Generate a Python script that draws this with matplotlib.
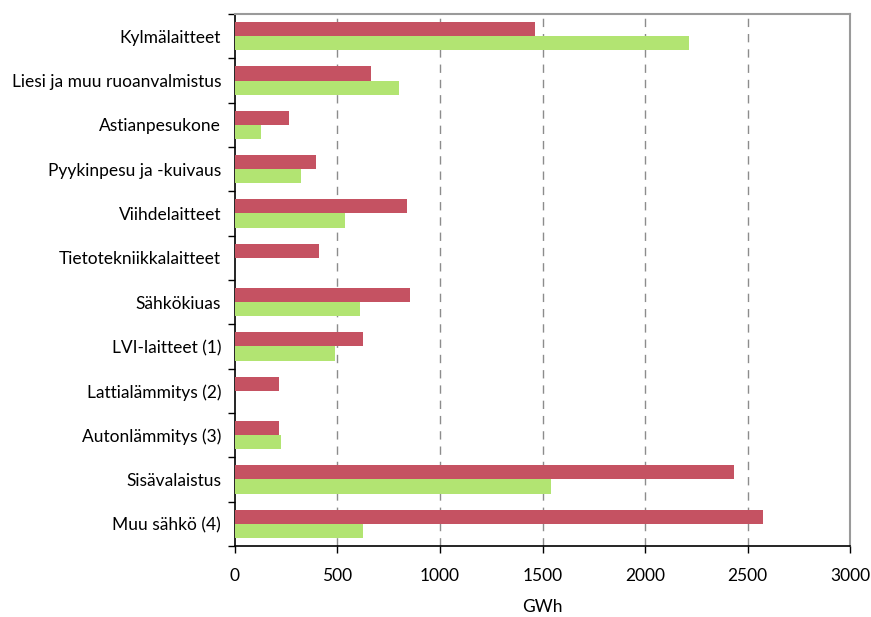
import numpy as np
import matplotlib.pyplot as plt
from matplotlib.ticker import FixedLocator, NullFormatter

plt.rcParams['font.family'] = ['Lato', 'DejaVu Sans']

categories = [
    "Kylmälaitteet",
    "Liesi ja muu ruoanvalmistus",
    "Astianpesukone",
    "Pyykinpesu ja -kuivaus",
    "Viihdelaitteet",
    "Tietotekniikkalaitteet",
    "Sähkökiuas",
    "LVI-laitteet (1)",
    "Lattialämmitys (2)",
    "Autonlämmitys (3)",
    "Sisävalaistus",
    "Muu sähkö (4)",
]
red_values = [1465, 662, 263, 394, 837, 409, 852, 623, 214, 217, 2432, 2574]
green_values = [2213, 798, 127, 321, 535, 0, 608, 487, 0, 226, 1543, 622]
x_ticks = [0, 500, 1000, 1500, 2000, 2500, 3000]

red = "#C55262"
green = "#B2E472"
fs = 12.5

fig = plt.figure(figsize=(8.71, 6.17), dpi=100)
ax = fig.add_axes([0.2698, 0.1151, 0.7061, 0.8622])

n = len(categories)
pos = np.arange(n)
h = 0.317
ax.barh(pos - h / 2, red_values, height=h, color=red, zorder=3)
ax.barh(pos + h / 2, green_values, height=h, color=green, zorder=3)

ax.set_ylim(n - 0.5, -0.5)
ax.set_xlim(0, 3000)

# category labels sit between the boundary ticks
ax.yaxis.set_major_locator(FixedLocator(np.arange(-0.5, n, 1.0)))
ax.yaxis.set_major_formatter(NullFormatter())
ax.yaxis.set_minor_locator(FixedLocator(pos))
ax.set_yticklabels(categories, minor=True, fontsize=fs)
ax.tick_params(axis='y', which='major', direction='out', length=5, width=1, color='black')
ax.tick_params(axis='y', which='minor', length=0, pad=10)

ax.set_xticks(x_ticks)
ax.tick_params(axis='x', direction='out', length=5, width=1, labelsize=fs, pad=11)
ax.set_xlabel("GWh", fontsize=fs, labelpad=11)

for x in x_ticks[1:-1]:
    ax.axvline(x, color='#8c8c8c', linestyle=(0, (6, 5)), linewidth=1, zorder=1)

for side in ['left', 'bottom']:
    ax.spines[side].set_color('black')
    ax.spines[side].set_linewidth(1.2)
for side in ['top', 'right']:
    ax.spines[side].set_color('#9a9a9a')
    ax.spines[side].set_linewidth(1.5)

fig.savefig("out.png", dpi=100)
